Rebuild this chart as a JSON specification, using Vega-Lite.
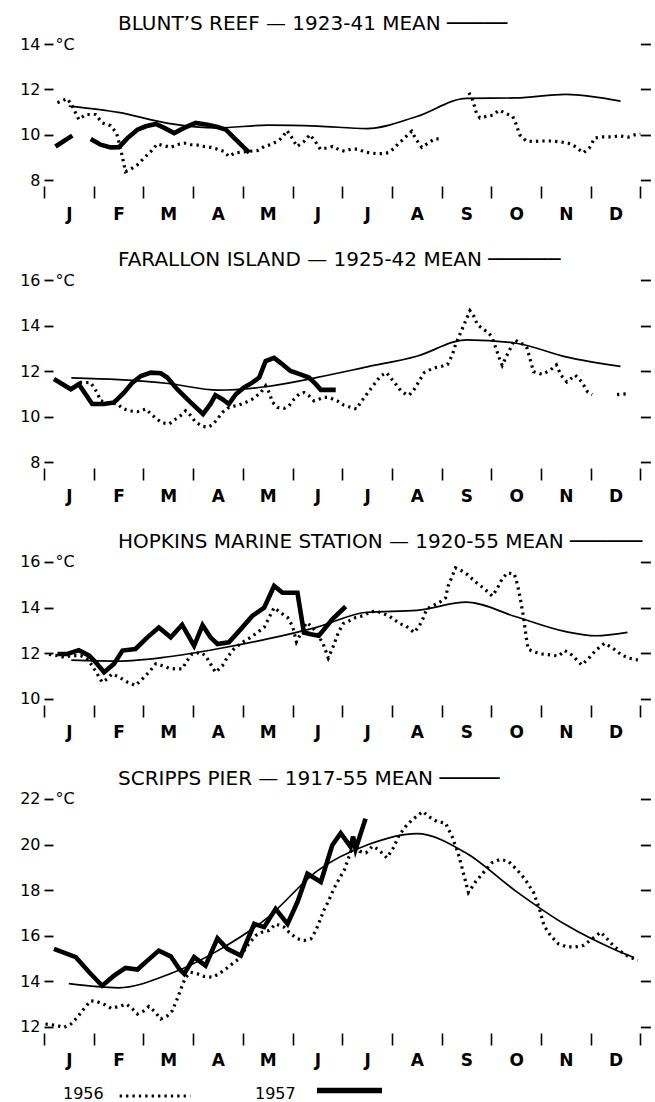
{
  "$schema": "https://vega.github.io/schema/vega-lite/v6.json",
  "background": "white",
  "padding": {"left": 19, "top": 14, "right": 0, "bottom": 5},
  "datasets": {
    "blunt_mean": [
      {"month": 0.5, "temp": 11.26}, {"month": 1.5, "temp": 10.98}, {"month": 2.5, "temp": 10.5},
      {"month": 3.5, "temp": 10.3}, {"month": 4.5, "temp": 10.42}, {"month": 5.5, "temp": 10.38},
      {"month": 6.5, "temp": 10.27}, {"month": 7.5, "temp": 10.8}, {"month": 8.5, "temp": 11.6},
      {"month": 9.5, "temp": 11.62}, {"month": 10.5, "temp": 11.78}, {"month": 11.6, "temp": 11.48}
    ],
    "blunt_1956": [
      {"seg": "a", "month": 0.27, "temp": 11.41}, {"seg": "a", "month": 0.47, "temp": 11.59}, {"seg": "a", "month": 0.57, "temp": 11.26},
      {"seg": "a", "month": 0.7, "temp": 10.67}, {"seg": "a", "month": 0.84, "temp": 10.89}, {"seg": "a", "month": 1.04, "temp": 10.89},
      {"seg": "a", "month": 1.17, "temp": 10.52}, {"seg": "a", "month": 1.34, "temp": 10.4}, {"seg": "a", "month": 1.46, "temp": 10.07},
      {"seg": "a", "month": 1.54, "temp": 9.4}, {"seg": "a", "month": 1.64, "temp": 8.37}, {"seg": "a", "month": 1.74, "temp": 8.47},
      {"seg": "a", "month": 1.88, "temp": 8.67}, {"seg": "a", "month": 2.01, "temp": 8.96}, {"seg": "a", "month": 2.15, "temp": 9.26},
      {"seg": "a", "month": 2.28, "temp": 9.59}, {"seg": "a", "month": 2.42, "temp": 9.51}, {"seg": "a", "month": 2.55, "temp": 9.44},
      {"seg": "a", "month": 2.68, "temp": 9.56}, {"seg": "a", "month": 2.82, "temp": 9.63}, {"seg": "a", "month": 2.95, "temp": 9.56},
      {"seg": "a", "month": 3.09, "temp": 9.54}, {"seg": "a", "month": 3.22, "temp": 9.48}, {"seg": "a", "month": 3.36, "temp": 9.44},
      {"seg": "a", "month": 3.49, "temp": 9.36}, {"seg": "a", "month": 3.62, "temp": 9.26}, {"seg": "a", "month": 3.72, "temp": 9.04},
      {"seg": "a", "month": 3.83, "temp": 9.19}, {"seg": "a", "month": 4.05, "temp": 9.25}, {"seg": "a", "month": 4.3, "temp": 9.3},
      {"seg": "a", "month": 4.43, "temp": 9.48}, {"seg": "a", "month": 4.56, "temp": 9.56}, {"seg": "a", "month": 4.73, "temp": 9.75},
      {"seg": "a", "month": 4.8, "temp": 9.9}, {"seg": "a", "month": 4.89, "temp": 10.18}, {"seg": "a", "month": 4.97, "temp": 9.93},
      {"seg": "a", "month": 5.09, "temp": 9.48}, {"seg": "a", "month": 5.22, "temp": 9.67}, {"seg": "a", "month": 5.35, "temp": 10.0},
      {"seg": "a", "month": 5.48, "temp": 9.63}, {"seg": "a", "month": 5.56, "temp": 9.36}, {"seg": "a", "month": 5.68, "temp": 9.41},
      {"seg": "a", "month": 5.81, "temp": 9.48}, {"seg": "a", "month": 5.94, "temp": 9.33}, {"seg": "a", "month": 6.05, "temp": 9.27},
      {"seg": "a", "month": 6.18, "temp": 9.36}, {"seg": "a", "month": 6.32, "temp": 9.36}, {"seg": "a", "month": 6.45, "temp": 9.24},
      {"seg": "a", "month": 6.58, "temp": 9.19}, {"seg": "a", "month": 6.71, "temp": 9.16}, {"seg": "a", "month": 6.82, "temp": 9.16},
      {"seg": "a", "month": 6.93, "temp": 9.21}, {"seg": "a", "month": 7.04, "temp": 9.39}, {"seg": "a", "month": 7.14, "temp": 9.63},
      {"seg": "a", "month": 7.24, "temp": 9.81}, {"seg": "a", "month": 7.32, "temp": 10.0}, {"seg": "a", "month": 7.4, "temp": 10.15},
      {"seg": "a", "month": 7.47, "temp": 9.85}, {"seg": "a", "month": 7.6, "temp": 9.44}, {"seg": "a", "month": 7.73, "temp": 9.63},
      {"seg": "a", "month": 7.86, "temp": 9.82}, {"seg": "a", "month": 7.98, "temp": 9.81},
      {"seg": "b", "month": 8.55, "temp": 11.85}, {"seg": "b", "month": 8.62, "temp": 11.56}, {"seg": "b", "month": 8.66, "temp": 11.26},
      {"seg": "b", "month": 8.7, "temp": 10.96}, {"seg": "b", "month": 8.77, "temp": 10.74}, {"seg": "b", "month": 8.91, "temp": 10.81},
      {"seg": "b", "month": 9.03, "temp": 10.86}, {"seg": "b", "month": 9.16, "temp": 11.08}, {"seg": "b", "month": 9.3, "temp": 10.93},
      {"seg": "b", "month": 9.43, "temp": 10.81}, {"seg": "b", "month": 9.49, "temp": 10.52}, {"seg": "b", "month": 9.57, "temp": 10.0},
      {"seg": "b", "month": 9.7, "temp": 9.72}, {"seg": "b", "month": 9.85, "temp": 9.7}, {"seg": "b", "month": 10.0, "temp": 9.72},
      {"seg": "b", "month": 10.2, "temp": 9.72}, {"seg": "b", "month": 10.4, "temp": 9.68}, {"seg": "b", "month": 10.55, "temp": 9.62},
      {"seg": "b", "month": 10.67, "temp": 9.5}, {"seg": "b", "month": 10.85, "temp": 9.2}, {"seg": "b", "month": 10.97, "temp": 9.4},
      {"seg": "b", "month": 11.08, "temp": 9.85}, {"seg": "b", "month": 11.25, "temp": 9.9}, {"seg": "b", "month": 11.42, "temp": 9.9},
      {"seg": "b", "month": 11.58, "temp": 9.95}, {"seg": "b", "month": 11.75, "temp": 9.89}, {"seg": "b", "month": 11.9, "temp": 10.0},
      {"seg": "b", "month": 12.0, "temp": 10.03}
    ],
    "blunt_1957": [
      {"seg": "a", "month": 0.23, "temp": 9.48}, {"seg": "a", "month": 0.57, "temp": 9.96},
      {"seg": "b", "month": 0.94, "temp": 9.81}, {"seg": "b", "month": 1.14, "temp": 9.56}, {"seg": "b", "month": 1.34, "temp": 9.44},
      {"seg": "b", "month": 1.51, "temp": 9.45}, {"seg": "b", "month": 1.68, "temp": 9.85}, {"seg": "b", "month": 1.88, "temp": 10.22},
      {"seg": "b", "month": 2.05, "temp": 10.37}, {"seg": "b", "month": 2.25, "temp": 10.47}, {"seg": "b", "month": 2.42, "temp": 10.3},
      {"seg": "b", "month": 2.62, "temp": 10.07}, {"seg": "b", "month": 2.82, "temp": 10.3}, {"seg": "b", "month": 3.05, "temp": 10.52},
      {"seg": "b", "month": 3.29, "temp": 10.44}, {"seg": "b", "month": 3.49, "temp": 10.34}, {"seg": "b", "month": 3.66, "temp": 10.22},
      {"seg": "b", "month": 3.83, "temp": 9.85}, {"seg": "b", "month": 4.0, "temp": 9.48}, {"seg": "b", "month": 4.13, "temp": 9.21}
    ],
    "farallon_mean": [
      {"month": 0.55, "temp": 11.7}, {"month": 1.5, "temp": 11.62}, {"month": 2.5, "temp": 11.45},
      {"month": 3.5, "temp": 11.16}, {"month": 4.5, "temp": 11.32}, {"month": 5.5, "temp": 11.72},
      {"month": 6.5, "temp": 12.18}, {"month": 7.5, "temp": 12.65}, {"month": 8.5, "temp": 13.37},
      {"month": 9.5, "temp": 13.22}, {"month": 10.5, "temp": 12.62}, {"month": 11.6, "temp": 12.2}
    ],
    "farallon_1956": [
      {"seg": "a", "month": 0.72, "temp": 11.5}, {"seg": "a", "month": 0.94, "temp": 11.49}, {"seg": "a", "month": 1.07, "temp": 11.05},
      {"seg": "a", "month": 1.14, "temp": 10.69}, {"seg": "a", "month": 1.3, "temp": 10.6}, {"seg": "a", "month": 1.48, "temp": 10.55},
      {"seg": "a", "month": 1.58, "temp": 10.36}, {"seg": "a", "month": 1.71, "temp": 10.25}, {"seg": "a", "month": 1.88, "temp": 10.21},
      {"seg": "a", "month": 2.05, "temp": 10.33}, {"seg": "a", "month": 2.15, "temp": 10.11}, {"seg": "a", "month": 2.27, "temp": 9.89},
      {"seg": "a", "month": 2.38, "temp": 9.72}, {"seg": "a", "month": 2.52, "temp": 9.67}, {"seg": "a", "month": 2.63, "temp": 9.86},
      {"seg": "a", "month": 2.75, "temp": 10.04}, {"seg": "a", "month": 2.85, "temp": 10.25}, {"seg": "a", "month": 2.95, "temp": 10.04},
      {"seg": "a", "month": 3.05, "temp": 9.75}, {"seg": "a", "month": 3.19, "temp": 9.57}, {"seg": "a", "month": 3.29, "temp": 9.53},
      {"seg": "a", "month": 3.39, "temp": 9.63}, {"seg": "a", "month": 3.49, "temp": 9.89}, {"seg": "a", "month": 3.59, "temp": 10.18},
      {"seg": "a", "month": 3.69, "temp": 10.36}, {"seg": "a", "month": 3.79, "temp": 10.44}, {"seg": "a", "month": 3.92, "temp": 10.5},
      {"seg": "a", "month": 4.06, "temp": 10.62}, {"seg": "a", "month": 4.19, "temp": 10.76}, {"seg": "a", "month": 4.36, "temp": 11.05},
      {"seg": "a", "month": 4.46, "temp": 11.35}, {"seg": "a", "month": 4.53, "temp": 11.05}, {"seg": "a", "month": 4.6, "temp": 10.62},
      {"seg": "a", "month": 4.7, "temp": 10.4}, {"seg": "a", "month": 4.83, "temp": 10.36}, {"seg": "a", "month": 4.93, "temp": 10.47},
      {"seg": "a", "month": 5.03, "temp": 10.76}, {"seg": "a", "month": 5.13, "temp": 10.98}, {"seg": "a", "month": 5.23, "temp": 11.05},
      {"seg": "a", "month": 5.33, "temp": 10.91}, {"seg": "a", "month": 5.43, "temp": 10.69}, {"seg": "a", "month": 5.53, "temp": 10.76},
      {"seg": "a", "month": 5.63, "temp": 10.84}, {"seg": "a", "month": 5.73, "temp": 10.84}, {"seg": "a", "month": 5.9, "temp": 10.69},
      {"seg": "a", "month": 6.03, "temp": 10.5}, {"seg": "a", "month": 6.17, "temp": 10.4}, {"seg": "a", "month": 6.29, "temp": 10.33},
      {"seg": "a", "month": 6.37, "temp": 10.62}, {"seg": "a", "month": 6.47, "temp": 10.91}, {"seg": "a", "month": 6.57, "temp": 11.2},
      {"seg": "a", "month": 6.67, "temp": 11.49}, {"seg": "a", "month": 6.77, "temp": 11.78}, {"seg": "a", "month": 6.89, "temp": 11.93},
      {"seg": "a", "month": 6.97, "temp": 11.71}, {"seg": "a", "month": 7.08, "temp": 11.42}, {"seg": "a", "month": 7.18, "temp": 11.13},
      {"seg": "a", "month": 7.28, "temp": 10.98}, {"seg": "a", "month": 7.35, "temp": 10.94}, {"seg": "a", "month": 7.45, "temp": 11.2},
      {"seg": "a", "month": 7.55, "temp": 11.56}, {"seg": "a", "month": 7.65, "temp": 11.93}, {"seg": "a", "month": 7.75, "temp": 12.04},
      {"seg": "a", "month": 7.88, "temp": 12.15}, {"seg": "a", "month": 8.02, "temp": 12.22}, {"seg": "a", "month": 8.12, "temp": 12.29},
      {"seg": "a", "month": 8.22, "temp": 12.73}, {"seg": "a", "month": 8.28, "temp": 13.16}, {"seg": "a", "month": 8.38, "temp": 13.67},
      {"seg": "a", "month": 8.48, "temp": 14.18}, {"seg": "a", "month": 8.57, "temp": 14.65}, {"seg": "a", "month": 8.65, "temp": 14.4},
      {"seg": "a", "month": 8.72, "temp": 14.04}, {"seg": "a", "month": 8.85, "temp": 13.82}, {"seg": "a", "month": 8.95, "temp": 13.67},
      {"seg": "a", "month": 9.02, "temp": 13.45}, {"seg": "a", "month": 9.09, "temp": 13.02}, {"seg": "a", "month": 9.16, "temp": 12.58},
      {"seg": "a", "month": 9.22, "temp": 12.25}, {"seg": "a", "month": 9.29, "temp": 12.58}, {"seg": "a", "month": 9.39, "temp": 13.02},
      {"seg": "a", "month": 9.47, "temp": 13.38}, {"seg": "a", "month": 9.56, "temp": 13.24}, {"seg": "a", "month": 9.66, "temp": 13.16},
      {"seg": "a", "month": 9.72, "temp": 13.0}, {"seg": "a", "month": 9.85, "temp": 11.97}, {"seg": "a", "month": 10.02, "temp": 11.85},
      {"seg": "a", "month": 10.19, "temp": 12.04}, {"seg": "a", "month": 10.31, "temp": 12.27}, {"seg": "a", "month": 10.4, "temp": 11.82},
      {"seg": "a", "month": 10.52, "temp": 11.52}, {"seg": "a", "month": 10.69, "temp": 11.82}, {"seg": "a", "month": 10.82, "temp": 11.52},
      {"seg": "a", "month": 10.94, "temp": 11.07}, {"seg": "a", "month": 11.03, "temp": 10.96},
      {"seg": "b", "month": 11.53, "temp": 10.96}, {"seg": "b", "month": 11.74, "temp": 11.0}
    ],
    "farallon_1957": [
      {"month": 0.2, "temp": 11.65}, {"month": 0.54, "temp": 11.2}, {"month": 0.7, "temp": 11.42},
      {"month": 0.97, "temp": 10.55}, {"month": 1.21, "temp": 10.55}, {"month": 1.41, "temp": 10.62},
      {"month": 1.61, "temp": 11.05}, {"month": 1.78, "temp": 11.49}, {"month": 1.95, "temp": 11.78},
      {"month": 2.15, "temp": 11.93}, {"month": 2.35, "temp": 11.9}, {"month": 2.48, "temp": 11.71},
      {"month": 2.68, "temp": 11.2}, {"month": 2.95, "temp": 10.62}, {"month": 3.2, "temp": 10.11},
      {"month": 3.35, "temp": 10.55}, {"month": 3.45, "temp": 10.94}, {"month": 3.59, "temp": 10.76},
      {"month": 3.72, "temp": 10.55}, {"month": 3.86, "temp": 10.98}, {"month": 4.02, "temp": 11.27},
      {"month": 4.19, "temp": 11.49}, {"month": 4.33, "temp": 11.71}, {"month": 4.46, "temp": 12.44},
      {"month": 4.63, "temp": 12.58}, {"month": 4.76, "temp": 12.36}, {"month": 4.96, "temp": 12.0},
      {"month": 5.16, "temp": 11.85}, {"month": 5.33, "temp": 11.71}, {"month": 5.47, "temp": 11.42},
      {"month": 5.57, "temp": 11.17}, {"month": 5.87, "temp": 11.17}
    ],
    "hopkins_mean": [
      {"month": 0.55, "temp": 11.7}, {"month": 1.5, "temp": 11.66}, {"month": 2.5, "temp": 11.85},
      {"month": 3.5, "temp": 12.2}, {"month": 4.5, "temp": 12.63}, {"month": 5.5, "temp": 13.15},
      {"month": 6.5, "temp": 13.8}, {"month": 7.5, "temp": 13.88}, {"month": 8.5, "temp": 14.24},
      {"month": 9.5, "temp": 13.6}, {"month": 10.5, "temp": 12.95}, {"month": 11.1, "temp": 12.77},
      {"month": 11.74, "temp": 12.92}
    ],
    "hopkins_1956": [
      {"month": 0.1, "temp": 11.95}, {"month": 0.27, "temp": 11.9}, {"month": 0.4, "temp": 11.83},
      {"month": 0.55, "temp": 11.9}, {"month": 0.74, "temp": 11.9}, {"month": 0.87, "temp": 11.75},
      {"month": 0.97, "temp": 11.46}, {"month": 1.07, "temp": 11.1}, {"month": 1.17, "temp": 10.74},
      {"month": 1.27, "temp": 10.88}, {"month": 1.37, "temp": 11.1}, {"month": 1.51, "temp": 10.96},
      {"month": 1.68, "temp": 10.74}, {"month": 1.84, "temp": 10.59}, {"month": 1.98, "temp": 10.88},
      {"month": 2.11, "temp": 11.17}, {"month": 2.25, "temp": 11.54}, {"month": 2.38, "temp": 11.46},
      {"month": 2.52, "temp": 11.35}, {"month": 2.65, "temp": 11.32}, {"month": 2.78, "temp": 11.32},
      {"month": 2.88, "temp": 11.68}, {"month": 2.98, "temp": 11.97}, {"month": 3.15, "temp": 12.04},
      {"month": 3.25, "temp": 11.9}, {"month": 3.35, "temp": 11.54}, {"month": 3.45, "temp": 11.17},
      {"month": 3.59, "temp": 11.46}, {"month": 3.69, "temp": 11.83}, {"month": 3.82, "temp": 12.19},
      {"month": 3.99, "temp": 12.48}, {"month": 4.16, "temp": 12.7}, {"month": 4.29, "temp": 12.91},
      {"month": 4.43, "temp": 13.13}, {"month": 4.53, "temp": 13.57}, {"month": 4.63, "temp": 14.0},
      {"month": 4.76, "temp": 13.78}, {"month": 4.9, "temp": 13.57}, {"month": 5.0, "temp": 13.2},
      {"month": 5.08, "temp": 12.5}, {"month": 5.2, "temp": 13.0}, {"month": 5.28, "temp": 13.35},
      {"month": 5.4, "temp": 13.15}, {"month": 5.5, "temp": 12.85}, {"month": 5.62, "temp": 12.4},
      {"month": 5.72, "temp": 11.8}, {"month": 5.82, "temp": 12.3}, {"month": 5.92, "temp": 12.9},
      {"month": 6.02, "temp": 13.3}, {"month": 6.14, "temp": 13.42}, {"month": 6.27, "temp": 13.57},
      {"month": 6.41, "temp": 13.64}, {"month": 6.54, "temp": 13.78}, {"month": 6.67, "temp": 13.86},
      {"month": 6.83, "temp": 13.74}, {"month": 6.94, "temp": 13.64}, {"month": 7.04, "temp": 13.49},
      {"month": 7.16, "temp": 13.3}, {"month": 7.28, "temp": 13.2}, {"month": 7.45, "temp": 12.91},
      {"month": 7.55, "temp": 13.2}, {"month": 7.62, "temp": 13.49}, {"month": 7.7, "temp": 13.93},
      {"month": 7.81, "temp": 14.07}, {"month": 7.95, "temp": 14.22}, {"month": 8.08, "temp": 14.43},
      {"month": 8.13, "temp": 14.94}, {"month": 8.2, "temp": 15.3}, {"month": 8.28, "temp": 15.74},
      {"month": 8.4, "temp": 15.62}, {"month": 8.52, "temp": 15.45}, {"month": 8.63, "temp": 15.23},
      {"month": 8.73, "temp": 15.04}, {"month": 8.84, "temp": 14.87}, {"month": 9.02, "temp": 14.51},
      {"month": 9.11, "temp": 14.8}, {"month": 9.21, "temp": 15.23}, {"month": 9.32, "temp": 15.52},
      {"month": 9.46, "temp": 15.48}, {"month": 9.5, "temp": 15.23}, {"month": 9.54, "temp": 14.87},
      {"month": 9.58, "temp": 14.43}, {"month": 9.61, "temp": 14.07}, {"month": 9.65, "temp": 13.57},
      {"month": 9.68, "temp": 13.06}, {"month": 9.71, "temp": 12.62}, {"month": 9.74, "temp": 12.19},
      {"month": 9.85, "temp": 12.07}, {"month": 10.02, "temp": 11.97}, {"month": 10.19, "temp": 11.93},
      {"month": 10.35, "temp": 11.88}, {"month": 10.48, "temp": 12.12}, {"month": 10.62, "temp": 11.93},
      {"month": 10.82, "temp": 11.49}, {"month": 10.96, "temp": 11.78}, {"month": 11.11, "temp": 12.15},
      {"month": 11.28, "temp": 12.44}, {"month": 11.45, "temp": 12.22}, {"month": 11.62, "temp": 11.93},
      {"month": 11.78, "temp": 11.78}, {"month": 11.95, "temp": 11.71}
    ],
    "hopkins_1957": [
      {"month": 0.27, "temp": 11.97}, {"month": 0.47, "temp": 11.97}, {"month": 0.7, "temp": 12.14},
      {"month": 0.91, "temp": 11.9}, {"month": 1.04, "temp": 11.61}, {"month": 1.21, "temp": 11.17},
      {"month": 1.41, "temp": 11.54}, {"month": 1.58, "temp": 12.12}, {"month": 1.84, "temp": 12.19},
      {"month": 2.08, "temp": 12.7}, {"month": 2.31, "temp": 13.13}, {"month": 2.55, "temp": 12.7},
      {"month": 2.78, "temp": 13.25}, {"month": 3.02, "temp": 12.33}, {"month": 3.19, "temp": 13.23},
      {"month": 3.35, "temp": 12.7}, {"month": 3.49, "temp": 12.41}, {"month": 3.72, "temp": 12.48},
      {"month": 3.96, "temp": 13.06}, {"month": 4.19, "temp": 13.64}, {"month": 4.43, "temp": 14.0},
      {"month": 4.63, "temp": 14.95}, {"month": 4.8, "temp": 14.65}, {"month": 5.1, "temp": 14.65},
      {"month": 5.23, "temp": 12.91}, {"month": 5.37, "temp": 12.84}, {"month": 5.53, "temp": 12.77},
      {"month": 5.8, "temp": 13.49}, {"month": 6.07, "temp": 14.05}
    ],
    "scripps_mean": [
      {"month": 0.5, "temp": 13.9}, {"month": 1.5, "temp": 13.72}, {"month": 2.5, "temp": 14.3},
      {"month": 3.5, "temp": 15.35}, {"month": 4.5, "temp": 16.8}, {"month": 5.5, "temp": 18.85},
      {"month": 6.5, "temp": 19.98}, {"month": 7.5, "temp": 20.48}, {"month": 8.5, "temp": 19.62},
      {"month": 9.5, "temp": 17.95}, {"month": 10.5, "temp": 16.48}, {"month": 11.5, "temp": 15.38},
      {"month": 11.87, "temp": 15.05}
    ],
    "scripps_1956": [
      {"month": 0.03, "temp": 12.13}, {"month": 0.23, "temp": 12.08}, {"month": 0.4, "temp": 11.98},
      {"month": 0.54, "temp": 12.13}, {"month": 0.67, "temp": 12.42}, {"month": 0.8, "temp": 12.79},
      {"month": 0.94, "temp": 13.15}, {"month": 1.07, "temp": 13.11}, {"month": 1.22, "temp": 12.98},
      {"month": 1.35, "temp": 12.82}, {"month": 1.51, "temp": 12.9}, {"month": 1.66, "temp": 13.0},
      {"month": 1.78, "temp": 12.79}, {"month": 1.88, "temp": 12.57}, {"month": 2.01, "temp": 12.71},
      {"month": 2.11, "temp": 12.9}, {"month": 2.23, "temp": 12.67}, {"month": 2.35, "temp": 12.35},
      {"month": 2.48, "temp": 12.49}, {"month": 2.58, "temp": 12.71}, {"month": 2.68, "temp": 13.23},
      {"month": 2.78, "temp": 13.81}, {"month": 2.85, "temp": 14.18}, {"month": 2.95, "temp": 14.4},
      {"month": 3.09, "temp": 14.33}, {"month": 3.22, "temp": 14.22}, {"month": 3.39, "temp": 14.18},
      {"month": 3.52, "temp": 14.33}, {"month": 3.66, "temp": 14.55}, {"month": 3.79, "temp": 14.77},
      {"month": 3.92, "temp": 14.99}, {"month": 4.09, "temp": 15.57}, {"month": 4.26, "temp": 16.01},
      {"month": 4.39, "temp": 16.16}, {"month": 4.53, "temp": 16.23}, {"month": 4.66, "temp": 16.52},
      {"month": 4.83, "temp": 16.38}, {"month": 4.96, "temp": 16.09}, {"month": 5.1, "temp": 15.87},
      {"month": 5.23, "temp": 15.79}, {"month": 5.37, "temp": 15.87}, {"month": 5.47, "temp": 16.23},
      {"month": 5.55, "temp": 16.67}, {"month": 5.63, "temp": 17.11}, {"month": 5.73, "temp": 17.55},
      {"month": 5.83, "temp": 18.06}, {"month": 5.94, "temp": 18.5}, {"month": 6.04, "temp": 18.87},
      {"month": 6.1, "temp": 19.24}, {"month": 6.17, "temp": 19.68}, {"month": 6.24, "temp": 20.2},
      {"month": 6.35, "temp": 19.7}, {"month": 6.48, "temp": 19.64}, {"month": 6.61, "temp": 19.93},
      {"month": 6.73, "temp": 19.78}, {"month": 6.9, "temp": 19.42}, {"month": 7.03, "temp": 19.86},
      {"month": 7.15, "temp": 20.43}, {"month": 7.28, "temp": 20.8}, {"month": 7.41, "temp": 21.09},
      {"month": 7.62, "temp": 21.45}, {"month": 7.74, "temp": 21.23}, {"month": 7.91, "temp": 21.01},
      {"month": 8.08, "temp": 20.94}, {"month": 8.21, "temp": 20.36}, {"month": 8.33, "temp": 19.64},
      {"month": 8.42, "temp": 18.91}, {"month": 8.54, "temp": 17.9}, {"month": 8.67, "temp": 18.33},
      {"month": 8.84, "temp": 18.77}, {"month": 9.01, "temp": 19.2}, {"month": 9.18, "temp": 19.35},
      {"month": 9.34, "temp": 19.28}, {"month": 9.51, "temp": 18.91}, {"month": 9.68, "temp": 18.48},
      {"month": 9.85, "temp": 17.9}, {"month": 9.97, "temp": 17.17}, {"month": 10.06, "temp": 16.45},
      {"month": 10.19, "temp": 16.01}, {"month": 10.35, "temp": 15.65}, {"month": 10.52, "temp": 15.51},
      {"month": 10.69, "temp": 15.51}, {"month": 10.86, "temp": 15.58}, {"month": 11.03, "temp": 15.87},
      {"month": 11.2, "temp": 16.16}, {"month": 11.33, "temp": 15.87}, {"month": 11.45, "temp": 15.58},
      {"month": 11.62, "temp": 15.29}, {"month": 11.78, "temp": 15.07}, {"month": 11.95, "temp": 14.93}
    ],
    "scripps_1957": [
      {"month": 0.2, "temp": 15.43}, {"month": 0.64, "temp": 15.06}, {"month": 0.91, "temp": 14.4},
      {"month": 1.17, "temp": 13.81}, {"month": 1.41, "temp": 14.25}, {"month": 1.64, "temp": 14.59},
      {"month": 1.88, "temp": 14.52}, {"month": 2.08, "temp": 14.91}, {"month": 2.31, "temp": 15.35},
      {"month": 2.55, "temp": 15.1}, {"month": 2.72, "temp": 14.55}, {"month": 2.82, "temp": 14.33},
      {"month": 3.02, "temp": 15.06}, {"month": 3.25, "temp": 14.69}, {"month": 3.49, "temp": 15.89},
      {"month": 3.69, "temp": 15.43}, {"month": 3.96, "temp": 15.13}, {"month": 4.23, "temp": 16.52},
      {"month": 4.43, "temp": 16.38}, {"month": 4.66, "temp": 17.18}, {"month": 4.9, "temp": 16.52},
      {"month": 5.1, "temp": 17.48}, {"month": 5.3, "temp": 18.72}, {"month": 5.57, "temp": 18.36},
      {"month": 5.8, "temp": 19.97}, {"month": 5.97, "temp": 20.5}, {"month": 6.17, "temp": 19.9},
      {"month": 6.22, "temp": 20.35}, {"month": 6.27, "temp": 19.8}, {"month": 6.47, "temp": 21.14}
    ]
  },
  "spacing": 100,
  "bounds": "flush",
  "vconcat": [
    {
      "width": 596.4,
      "height": 136,
      "title": {"text": "BLUNT’S REEF — 1923-41 MEAN  ─────", "anchor": "start", "frame": "group", "dx": 74, "offset": -14, "baseline": "alphabetic", "fontSize": 20, "fontWeight": "normal"},
      "resolve": {"axis": {"x": "independent", "y": "independent"}},
      "layer": [
        {
          "data": {"name": "blunt_mean"},
          "mark": {"type": "line", "interpolate": "monotone", "strokeWidth": 1.7},
          "encoding": {
            "x": {"field": "month", "type": "quantitative", "scale": {"domain": [0, 12], "nice": false, "zero": false},
                  "axis": {"orient": "bottom", "values": [0, 1, 2, 3, 4, 5, 6, 7, 8, 9, 10, 11, 12], "labels": false, "tickSize": 12, "tickWidth": 1.6, "offset": 6, "title": null}},
            "y": {"field": "temp", "type": "quantitative", "scale": {"domain": [8, 14], "nice": false, "zero": false},
                  "axis": {"orient": "left", "values": [8, 10, 12, 14], "tickSize": 9, "tickWidth": 1.8, "offset": -9, "labelPadding": 4, "labelFontSize": 16,
                           "title": "°C", "titleAngle": 0, "titleX": 2, "titleY": 0, "titleAlign": "left", "titleBaseline": "middle", "titleFontSize": 16, "titleFontWeight": "normal"}}
          }
        },
        {
          "data": {"name": "blunt_1956"},
          "mark": {"type": "line", "strokeWidth": 3.2, "strokeDash": [2.3, 4.1]},
          "encoding": {
            "x": {"field": "month", "type": "quantitative",
                  "axis": {"orient": "bottom", "values": [0.5, 1.5, 2.5, 3.5, 4.5, 5.5, 6.5, 7.5, 8.5, 9.5, 10.5, 11.5], "ticks": false, "tickSize": 0, "offset": 6, "labelPadding": 20,
                           "labelExpr": "['J','F','M','A','M','J','J','A','S','O','N','D'][floor(datum.value)]", "labelFontSize": 17, "labelFontWeight": "bold", "labelFlush": false, "labelOverlap": false, "labelBaseline": "top", "title": null}},
            "y": {"field": "temp", "type": "quantitative",
                  "axis": {"orient": "right", "values": [8, 10, 12, 14], "labels": false, "tickSize": 10, "tickWidth": 1.8, "title": null}},
            "detail": {"field": "seg"}
          }
        },
        {
          "data": {"name": "blunt_1957"},
          "mark": {"type": "line", "strokeWidth": 4.6, "strokeJoin": "miter"},
          "encoding": {
            "x": {"field": "month", "type": "quantitative", "axis": null},
            "y": {"field": "temp", "type": "quantitative", "axis": null},
            "detail": {"field": "seg"}
          }
        }
      ]
    },
    {
      "width": 596.4,
      "height": 182,
      "title": {"text": "FARALLON     ISLAND —  1925-42     MEAN  ──────", "anchor": "start", "frame": "group", "dx": 74, "offset": -14, "baseline": "alphabetic", "fontSize": 20, "fontWeight": "normal"},
      "resolve": {"axis": {"x": "independent", "y": "independent"}},
      "layer": [
        {
          "data": {"name": "farallon_mean"},
          "mark": {"type": "line", "interpolate": "monotone", "strokeWidth": 1.7},
          "encoding": {
            "x": {"field": "month", "type": "quantitative", "scale": {"domain": [0, 12], "nice": false, "zero": false},
                  "axis": {"orient": "bottom", "values": [0, 1, 2, 3, 4, 5, 6, 7, 8, 9, 10, 11, 12], "labels": false, "tickSize": 12, "tickWidth": 1.6, "offset": 6, "title": null}},
            "y": {"field": "temp", "type": "quantitative", "scale": {"domain": [8, 16], "nice": false, "zero": false},
                  "axis": {"orient": "left", "values": [8, 10, 12, 14, 16], "tickSize": 9, "tickWidth": 1.8, "offset": -9, "labelPadding": 4, "labelFontSize": 16,
                           "title": "°C", "titleAngle": 0, "titleX": 2, "titleY": 0, "titleAlign": "left", "titleBaseline": "middle", "titleFontSize": 16, "titleFontWeight": "normal"}}
          }
        },
        {
          "data": {"name": "farallon_1956"},
          "mark": {"type": "line", "strokeWidth": 3.2, "strokeDash": [2.3, 4.1]},
          "encoding": {
            "x": {"field": "month", "type": "quantitative",
                  "axis": {"orient": "bottom", "values": [0.5, 1.5, 2.5, 3.5, 4.5, 5.5, 6.5, 7.5, 8.5, 9.5, 10.5, 11.5], "ticks": false, "tickSize": 0, "offset": 6, "labelPadding": 20,
                           "labelExpr": "['J','F','M','A','M','J','J','A','S','O','N','D'][floor(datum.value)]", "labelFontSize": 17, "labelFontWeight": "bold", "labelFlush": false, "labelOverlap": false, "labelBaseline": "top", "title": null}},
            "y": {"field": "temp", "type": "quantitative",
                  "axis": {"orient": "right", "values": [8, 10, 12, 14, 16], "labels": false, "tickSize": 10, "tickWidth": 1.8, "title": null}},
            "detail": {"field": "seg"}
          }
        },
        {
          "data": {"name": "farallon_1957"},
          "mark": {"type": "line", "strokeWidth": 4.6, "strokeJoin": "miter"},
          "encoding": {
            "x": {"field": "month", "type": "quantitative", "axis": null},
            "y": {"field": "temp", "type": "quantitative", "axis": null}
          }
        }
      ]
    },
    {
      "width": 596.4,
      "height": 137,
      "title": {"text": "HOPKINS    MARINE     STATION —  1920-55   MEAN ──────", "anchor": "start", "frame": "group", "dx": 74, "offset": -14, "baseline": "alphabetic", "fontSize": 20, "fontWeight": "normal"},
      "resolve": {"axis": {"x": "independent", "y": "independent"}},
      "layer": [
        {
          "data": {"name": "hopkins_mean"},
          "mark": {"type": "line", "interpolate": "monotone", "strokeWidth": 1.7},
          "encoding": {
            "x": {"field": "month", "type": "quantitative", "scale": {"domain": [0, 12], "nice": false, "zero": false},
                  "axis": {"orient": "bottom", "values": [0, 1, 2, 3, 4, 5, 6, 7, 8, 9, 10, 11, 12], "labels": false, "tickSize": 12, "tickWidth": 1.6, "offset": 6, "title": null}},
            "y": {"field": "temp", "type": "quantitative", "scale": {"domain": [10, 16], "nice": false, "zero": false},
                  "axis": {"orient": "left", "values": [10, 12, 14, 16], "tickSize": 9, "tickWidth": 1.8, "offset": -9, "labelPadding": 4, "labelFontSize": 16,
                           "title": "°C", "titleAngle": 0, "titleX": 2, "titleY": 0, "titleAlign": "left", "titleBaseline": "middle", "titleFontSize": 16, "titleFontWeight": "normal"}}
          }
        },
        {
          "data": {"name": "hopkins_1956"},
          "mark": {"type": "line", "strokeWidth": 3.2, "strokeDash": [2.3, 4.1]},
          "encoding": {
            "x": {"field": "month", "type": "quantitative",
                  "axis": {"orient": "bottom", "values": [0.5, 1.5, 2.5, 3.5, 4.5, 5.5, 6.5, 7.5, 8.5, 9.5, 10.5, 11.5], "ticks": false, "tickSize": 0, "offset": 6, "labelPadding": 20,
                           "labelExpr": "['J','F','M','A','M','J','J','A','S','O','N','D'][floor(datum.value)]", "labelFontSize": 17, "labelFontWeight": "bold", "labelFlush": false, "labelOverlap": false, "labelBaseline": "top", "title": null}},
            "y": {"field": "temp", "type": "quantitative",
                  "axis": {"orient": "right", "values": [10, 12, 14, 16], "labels": false, "tickSize": 10, "tickWidth": 1.8, "title": null}}
          }
        },
        {
          "data": {"name": "hopkins_1957"},
          "mark": {"type": "line", "strokeWidth": 4.6, "strokeJoin": "miter"},
          "encoding": {
            "x": {"field": "month", "type": "quantitative", "axis": null},
            "y": {"field": "temp", "type": "quantitative", "axis": null}
          }
        }
      ]
    },
    {
      "width": 596.4,
      "height": 228,
      "title": {"text": "SCRIPPS  PIER — 1917-55  MEAN ─────", "anchor": "start", "frame": "group", "dx": 74, "offset": -14, "baseline": "alphabetic", "fontSize": 20, "fontWeight": "normal"},
      "resolve": {"axis": {"x": "independent", "y": "independent"}},
      "layer": [
        {
          "data": {"name": "scripps_mean"},
          "mark": {"type": "line", "interpolate": "monotone", "strokeWidth": 1.7},
          "encoding": {
            "x": {"field": "month", "type": "quantitative", "scale": {"domain": [0, 12], "nice": false, "zero": false},
                  "axis": {"orient": "bottom", "values": [0, 1, 2, 3, 4, 5, 6, 7, 8, 9, 10, 11, 12], "labels": false, "tickSize": 12, "tickWidth": 1.6, "offset": 6, "title": null}},
            "y": {"field": "temp", "type": "quantitative", "scale": {"domain": [12, 22], "nice": false, "zero": false},
                  "axis": {"orient": "left", "values": [12, 14, 16, 18, 20, 22], "tickSize": 9, "tickWidth": 1.8, "offset": -9, "labelPadding": 4, "labelFontSize": 16,
                           "title": "°C", "titleAngle": 0, "titleX": 2, "titleY": 0, "titleAlign": "left", "titleBaseline": "middle", "titleFontSize": 16, "titleFontWeight": "normal"}}
          }
        },
        {
          "data": {"name": "scripps_1956"},
          "mark": {"type": "line", "strokeWidth": 3.2},
          "encoding": {
            "x": {"field": "month", "type": "quantitative",
                  "axis": {"orient": "bottom", "values": [0.5, 1.5, 2.5, 3.5, 4.5, 5.5, 6.5, 7.5, 8.5, 9.5, 10.5, 11.5], "ticks": false, "tickSize": 0, "offset": 6, "labelPadding": 20,
                           "labelExpr": "['J','F','M','A','M','J','J','A','S','O','N','D'][floor(datum.value)]", "labelFontSize": 17, "labelFontWeight": "bold", "labelFlush": false, "labelOverlap": false, "labelBaseline": "top", "title": null}},
            "y": {"field": "temp", "type": "quantitative",
                  "axis": {"orient": "right", "values": [12, 14, 16, 18, 20, 22], "labels": false, "tickSize": 10, "tickWidth": 1.8, "title": null}},
            "strokeDash": {"datum": "1956", "type": "nominal", "scale": {"domain": ["1956"], "range": [[2.3, 4.1]]},
                           "legend": {"orient": "none", "legendX": 19, "legendY": 1015, "direction": "horizontal", "padding": 0,
                                      "title": "1956", "titleOrient": "left", "titleAnchor": "end", "titleBaseline": "bottom", "titleFontSize": 16, "titleFontWeight": "normal", "titlePadding": 14,
                                      "labelExpr": "''", "symbolType": "stroke", "symbolSize": 5000, "symbolStrokeWidth": 3.2, "symbolStrokeColor": "#000"}}
          }
        },
        {
          "data": {"name": "scripps_1957"},
          "mark": {"type": "line", "strokeWidth": 4.6, "strokeJoin": "miter"},
          "encoding": {
            "x": {"field": "month", "type": "quantitative", "axis": null},
            "y": {"field": "temp", "type": "quantitative", "axis": null},
            "color": {"datum": "1957", "type": "nominal", "scale": {"domain": ["1957"], "range": ["#000"]},
                      "legend": {"orient": "none", "legendX": 211, "legendY": 1011, "direction": "horizontal", "padding": 0,
                                 "title": "1957", "titleOrient": "left", "titleAnchor": "end", "titleBaseline": "bottom", "titleFontSize": 16, "titleFontWeight": "normal", "titlePadding": 18,
                                 "labelExpr": "''", "symbolType": "stroke", "symbolSize": 4225, "symbolStrokeWidth": 5.5}}
          }
        }
      ]
    }
  ],
  "config": {
    "view": {"stroke": null},
    "font": "DejaVu Sans",
    "axis": {"grid": false, "domain": false, "tickColor": "#000", "labelColor": "#000", "titleColor": "#000", "tickCap": "butt"},
    "title": {"color": "#000"},
    "legend": {"titleColor": "#000", "labelColor": "#000"},
    "line": {"color": "#000", "strokeCap": "butt"}
  }
}
